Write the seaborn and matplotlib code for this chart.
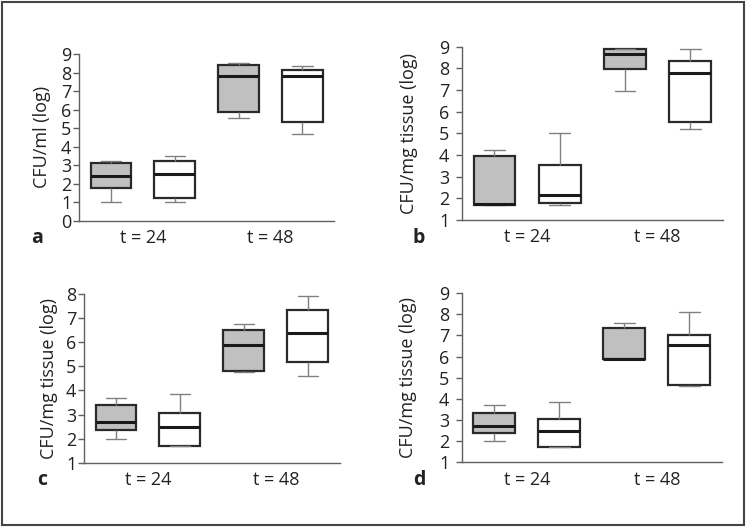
import numpy as np
import pandas as pd
import matplotlib
matplotlib.use("Agg")
import matplotlib.pyplot as plt
from matplotlib.patches import Rectangle
import seaborn as sb

# five-number summaries per box: [min, Q1, median, Q3, max]
times = ["t = 24", "t = 48"]
groups = ["gray", "white"]

a_gray = [[1.0, 1.75, 2.4, 3.1, 3.25], [5.55, 5.85, 7.8, 8.4, 8.5]]
a_white = [[1.0, 1.25, 2.55, 3.25, 3.5], [4.7, 5.35, 7.8, 8.15, 8.35]]

b_gray = [[1.7, 1.7, 1.72, 3.95, 4.25], [6.95, 7.95, 8.65, 8.87, 8.9]]
b_white = [[1.7, 1.8, 2.15, 3.55, 5.0], [5.2, 5.5, 7.8, 8.35, 8.9]]

c_gray = [[2.0, 2.35, 2.7, 3.4, 3.7], [4.75, 4.8, 5.9, 6.5, 6.75]]
c_white = [[1.7, 1.7, 2.5, 3.05, 3.85], [4.6, 5.2, 6.4, 7.35, 7.9]]

d_gray = [[2.0, 2.4, 2.7, 3.35, 3.7], [5.88, 5.88, 5.9, 7.35, 7.6]]
d_white = [[1.7, 1.7, 2.5, 3.05, 3.85], [4.6, 4.65, 6.55, 7.0, 8.1]]

ylabels = ["CFU/ml (log)", "CFU/mg tissue (log)", "CFU/mg tissue (log)", "CFU/mg tissue (log)"]
letters = ["a", "b", "c", "d"]
yticks_list = [range(0, 10), range(1, 10), range(1, 9), range(1, 10)]
ylims = [(0, 9), (1, 9), (1, 8), (1, 9)]


def make_df(gray, white):
	rows = []
	for i in range(len(times)):
		for v in gray[i]:
			rows.append((times[i], "gray", v))
		for v in white[i]:
			rows.append((times[i], "white", v))
	return pd.DataFrame(rows, columns=["time", "group", "value"])


sb.set_style("ticks")
plt.rcParams["font.family"] = ["Open Sans", "DejaVu Sans"]

fig = plt.figure(figsize=(7.46, 5.27), dpi=100)
positions = [
	[0.106, 0.581, 0.342, 0.3165],
	[0.619, 0.5825, 0.350, 0.329],
	[0.1126, 0.122, 0.343, 0.320],
	[0.619, 0.1228, 0.3485, 0.321],
]
tick_pads = [1.5, 5, 1.5, 5]
label_pads = [7, 15, 6, 16]
data = [(a_gray, a_white), (b_gray, b_white), (c_gray, c_white), (d_gray, d_white)]

for k in range(4):
	ax = fig.add_axes(positions[k])
	df = make_df(*data[k])
	sb.boxplot(data=df, x="time", y="value", hue="group", order=times, hue_order=groups,
		palette={"gray": "#c0c0c0", "white": "white"}, width=1.0, gap=0.36,
		whis=(0, 100), legend=False, ax=ax,
		boxprops={"edgecolor": "#2a2a2a", "linewidth": 1.6},
		medianprops={"color": "#1a1a1a", "linewidth": 2.2},
		whiskerprops={"color": "#808080", "linewidth": 1.0},
		capprops={"color": "#808080", "linewidth": 1.0})
	ax.set_xlim(-0.5, 1.5)
	ax.set_ylim(*ylims[k])
	ax.set_yticks(list(yticks_list[k]))
	sb.despine(ax=ax)
	for s in ["left", "bottom"]:
		ax.spines[s].set_color("#606060")
		ax.spines[s].set_linewidth(1.0)
	ax.tick_params(axis="y", length=4, width=1.0, color="#606060", pad=tick_pads[k], labelsize=13, labelcolor="#222222")
	ax.tick_params(axis="x", length=0, pad=6, labelsize=13, labelcolor="#222222")
	ax.set_xlabel("")
	ax.set_ylabel(ylabels[k], fontsize=13, color="#222222", labelpad=label_pads[k])
	ax.text(-0.165, -0.104, letters[k], transform=ax.transAxes, fontsize=14, fontweight="bold",
		ha="center", va="center", color="#222222")

fig.patches.append(Rectangle((1.5 / 746, 1 - 525 / 527), 742.5 / 746, 523.5 / 527,
	transform=fig.transFigure, fill=False, edgecolor="#444444", linewidth=1.5))

fig.savefig("out.png", dpi=100)
